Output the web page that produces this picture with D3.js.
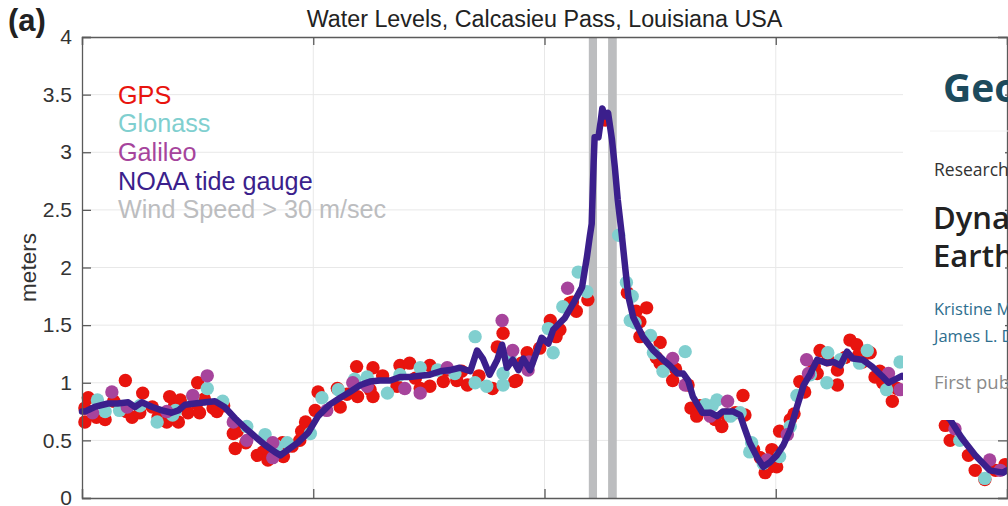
<!DOCTYPE html>
<html><head><meta charset="utf-8">
<script src="https://cdn.jsdelivr.net/npm/d3@7"></script>
<style>
body{margin:0;background:#fff;}
svg{display:block;}
.lib{font-family:"Liberation Sans",Arial,Helvetica,sans-serif;}
.os{font-family:"Open Sans","Noto Sans",sans-serif;}
</style>
</head><body>
<svg id="c" width="1008" height="506"></svg>
<script>
// ---------------- data ----------------
const titleText = "Water Levels, Calcasieu Pass, Louisiana USA";
const panelLabel = "(a)";
const yLabel = "meters";
const yTicks = [0, 0.5, 1, 1.5, 2, 2.5, 3, 3.5, 4];
const xTicks = [0, 24, 48, 72, 96];          // hours (tick labels cut off in reference)
const windWindows = [[52.6, 53.45], [54.6, 55.5]]; // hours with wind > 30 m/s
const seriesNames = ["GPS", "Glonass", "Galileo", "NOAA tide gauge", "Wind Speed > 30 m/sec"];
const seriesColors = ["#e8140e", "#80cfcf", "#a6449c", "#3b1f8c", "#bcbdbf"];

// NOAA tide gauge [hour, meters]
const noaaLine = [
[0.0,0.75],[0.3,0.75],[1.3,0.79],[2.7,0.82],[3.7,0.82],[4.8,0.83],[5.5,0.79],[6.2,0.83],[7.3,0.79],[8.3,0.76],
[9.3,0.74],[10.0,0.76],[10.7,0.81],[11.7,0.82],[12.8,0.83],[13.8,0.84],[14.8,0.79],[15.9,0.69],[16.9,0.61],[18.0,0.53],
[19.0,0.46],[20.0,0.40],[20.6,0.37],[21.4,0.42],[22.4,0.48],[23.5,0.57],[24.5,0.71],[25.7,0.81],[26.8,0.87],[27.8,0.92],
[28.9,0.98],[29.9,1.01],[30.9,1.02],[32.0,1.02],[33.0,1.05],[34.0,1.05],[35.1,1.06],[36.1,1.07],[37.2,1.10],[38.2,1.11],
[39.2,1.13],[40.3,1.10],[41.0,1.28],[41.6,1.21],[42.3,1.07],[43.1,1.20],[43.6,1.33],[44.1,1.13],[44.7,1.20],[45.3,1.11],
[45.8,1.21],[46.5,1.11],[47.2,1.27],[47.7,1.39],[48.4,1.34],[48.9,1.46],[49.6,1.52],[50.1,1.56],[51.0,1.69],[51.9,1.83],
[52.4,2.09],[52.7,2.27],[52.9,2.38],[53.1,2.91],[53.2,3.13],[53.6,3.13],[53.8,3.25],[54.0,3.38],[54.3,3.31],[54.6,3.34],
[55.0,3.11],[55.3,2.87],[55.6,2.59],[56.0,2.30],[56.4,1.98],[56.7,1.75],[57.2,1.57],[58.2,1.40],[59.3,1.28],[60.3,1.20],
[61.0,1.15],[61.8,1.08],[62.4,1.08],[62.9,1.02],[63.4,0.88],[64.4,0.74],[65.2,0.74],[65.9,0.71],[66.5,0.75],[67.6,0.75],
[68.3,0.72],[68.7,0.62],[69.3,0.48],[70.1,0.35],[70.7,0.27],[71.4,0.31],[72.1,0.37],[72.8,0.46],[73.5,0.59],[74.2,0.79],
[74.9,0.98],[75.6,1.08],[76.3,1.20],[77.3,1.17],[78.0,1.18],[78.7,1.15],[79.4,1.27],[80.0,1.21],[81.0,1.20],[82.0,1.14],
[83.0,1.06],[83.7,1.00],[84.4,1.03],[85.1,1.06],[86.5,0.98],[88.0,0.85],[89.3,0.74],[90.1,0.68],[91.3,0.52],[92.7,0.37],
[94.2,0.24],[95.6,0.22],[96.0,0.24]
];

// GPS [hour, meters]
const gpsPoints = [
[0.3,0.78],[0.3,0.66],[0.65,0.87],[1.5,0.70],[2.4,0.68],[3.3,0.84],[4.5,1.02],[4.6,0.75],[5.2,0.70],[6.0,0.74],
[6.3,0.91],[7.3,0.79],[7.9,0.70],[8.8,0.66],[9.1,0.88],[9.6,0.80],[10.0,0.66],[10.2,0.85],[11.0,0.74],[11.9,0.82],
[12.0,1.00],[12.2,0.74],[12.7,0.86],[13.6,0.78],[14.0,0.75],[14.7,0.80],[15.7,0.56],[15.9,0.43],[16.1,0.58],[17.0,0.48],
[18.2,0.37],[18.8,0.40],[19.2,0.42],[19.3,0.33],[20.8,0.48],[20.9,0.36],[21.8,0.45],[22.6,0.50],[22.8,0.58],[23.2,0.66],
[24.2,0.76],[24.5,0.92],[26.5,0.95],[26.8,0.79],[27.5,0.90],[28.5,1.14],[28.6,0.88],[29.9,0.94],[30.2,1.13],[30.2,0.88],
[31.2,1.06],[32.7,0.97],[33.0,1.15],[34.0,1.17],[34.6,1.04],[35.1,0.95],[36.1,1.15],[36.1,0.97],[37.5,1.01],[37.9,1.11],
[38.9,1.02],[39.4,1.10],[40.0,0.98],[41.2,1.06],[42.6,0.95],[43.1,1.31],[43.7,1.43],[44.9,1.01],[45.1,1.02],[45.6,1.17],
[46.2,1.26],[47.5,1.30],[48.6,1.54],[49.2,1.40],[49.6,1.46],[50.6,1.69],[50.9,1.70],[51.3,1.62],[52.5,1.72],[54.3,3.28],
[56.6,1.78],[57.5,1.62],[57.9,1.53],[57.9,1.40],[58.6,1.65],[59.6,1.22],[60.0,1.35],[60.0,1.17],[61.3,1.02],[61.6,1.12],
[62.9,0.98],[63.2,0.78],[63.8,0.71],[64.1,0.80],[65.7,0.68],[66.4,0.62],[66.9,0.72],[67.8,0.74],[68.6,0.89],[68.8,0.72],
[69.7,0.42],[70.4,0.35],[70.9,0.22],[71.4,0.27],[71.6,0.42],[72.1,0.27],[72.4,0.58],[73.5,0.68],[73.9,0.73],[74.5,1.01],
[75.0,0.92],[76.0,1.14],[76.3,1.08],[76.6,1.28],[77.4,1.20],[78.4,0.98],[78.4,1.11],[79.2,1.22],[79.7,1.37],[80.4,1.33],
[80.6,1.24],[81.0,1.18],[81.8,1.26],[82.3,1.05],[82.8,1.10],[83.1,1.00],[84.1,0.84],[84.6,0.95],[89.6,0.63],[90.1,0.50],
[92.0,0.37],[92.7,0.24],[93.7,0.16],[94.8,0.24],[95.8,0.29]
];

// Glonass [hour, meters]
const glonassPoints = [
[1.6,0.85],[2.4,0.75],[3.9,0.76],[6.0,0.80],[7.8,0.66],[9.4,0.72],[9.7,0.76],[11.5,0.88],[13.0,0.95],[14.6,0.84],
[17.1,0.62],[19.0,0.55],[20.2,0.45],[21.3,0.48],[23.7,0.56],[24.9,0.87],[26.6,0.94],[28.3,1.03],[29.6,1.05],[31.7,0.91],
[33.0,1.07],[35.1,1.13],[36.9,1.11],[38.7,1.08],[40.8,1.40],[40.8,1.00],[42.0,0.97],[43.7,0.98],[43.7,1.08],[44.4,1.22],
[48.4,1.47],[48.9,1.26],[49.9,1.66],[51.5,1.96],[52.4,1.79],[55.7,2.28],[56.5,1.87],[56.9,1.54],[57.1,1.75],[57.4,1.52],
[59.0,1.41],[59.3,1.26],[60.3,1.10],[62.6,1.27],[64.7,0.81],[65.4,0.80],[65.9,0.85],[67.3,0.71],[68.3,0.74],[69.3,0.40],
[69.5,0.48],[70.7,0.30],[72.4,0.36],[73.5,0.62],[74.2,0.89],[75.6,1.07],[77.3,1.00],[77.4,1.26],[78.7,1.20],[80.7,1.17],
[81.5,1.28],[83.5,0.94],[84.9,1.18],[91.1,0.50],[93.7,0.17]
];

// Galileo [hour, meters]
const galileoPoints = [
[1.1,0.74],[3.1,0.92],[4.7,0.79],[8.8,0.75],[11.5,0.89],[13.0,1.06],[15.7,0.66],[17.1,0.50],[19.8,0.48],[19.8,0.35],
[25.4,0.76],[28.1,1.00],[29.6,0.97],[33.5,0.95],[35.1,0.91],[37.9,1.13],[43.6,1.54],[44.7,1.28],[46.3,1.11],[46.4,1.18],
[50.4,1.82],[61.3,1.21],[62.6,0.98],[65.2,0.71],[67.0,0.84],[71.1,0.33],[73.2,0.55],[75.2,1.20],[75.4,1.08],[83.7,1.08],
[84.9,0.94],[90.6,0.60],[94.2,0.33],[95.3,0.24]
];

// overlay (pasted article header) texts
const overlayLines = [
  "Geophysical Research Letters",
  "Research Letter",
  "Dynamic Sea Level Variation From GNSS: 2020 Shumagin",
  "Earthquake Tsunami Resonance and Hurricane Laura",
  "Kristine M. Larson, Simon D. P. Williams,",
  "James L. Davis",
  "First published: 2021"
];

// ---------------- chart ----------------
const svg = d3.select("#c");
const L = 82, R = 1007, T = 37, B = 498;
const x = d3.scaleLinear().domain([0, 96]).range([L, R]);
const y = d3.scaleLinear().domain([0, 4]).range([B, T]);

// grid
const grid = svg.append("g");
grid.selectAll(".gy").data(yTicks.filter(d => d > 0 && d < 4)).join("line")
  .attr("x1", L).attr("x2", R).attr("y1", d => y(d)).attr("y2", d => y(d))
  .attr("stroke", "#e8e8e8").attr("stroke-width", 1);
grid.selectAll(".gx").data(xTicks.filter(d => d > 0 && d < 96)).join("line")
  .attr("y1", T).attr("y2", B).attr("x1", d => x(d)).attr("x2", d => x(d))
  .attr("stroke", "#e8e8e8").attr("stroke-width", 1);

// wind windows
svg.append("g").selectAll("rect").data(windWindows).join("rect")
  .attr("x", d => x(d[0])).attr("width", d => x(d[1]) - x(d[0]))
  .attr("y", T).attr("height", B - T).attr("fill", seriesColors[4]);

// points
function dots(data, color) {
  svg.append("g").selectAll("circle").data(data).join("circle")
    .attr("cx", d => x(d[0])).attr("cy", d => y(d[1])).attr("r", 6.7)
    .attr("fill", color);
}
dots(gpsPoints, seriesColors[0]);
dots(glonassPoints, seriesColors[1]);
dots(galileoPoints, seriesColors[2]);

// NOAA line
svg.append("path").datum(noaaLine)
  .attr("d", d3.line().x(d => x(d[0])).y(d => y(d[1])))
  .attr("fill", "none").attr("stroke", seriesColors[3]).attr("stroke-width", 6.5)
  .attr("stroke-linejoin", "round").attr("stroke-linecap", "round");

// axes
const axisColor = "#5a5a5a";
const yAxis = svg.append("g").attr("transform", `translate(${L},0)`)
  .call(d3.axisLeft(y).tickValues(yTicks).tickSize(-9).tickPadding(10).tickFormat(d3.format("")));
const xTop = svg.append("g").attr("transform", `translate(0,${T})`)
  .call(d3.axisTop(x).tickValues(xTicks).tickSize(-8).tickFormat(""));
const xBot = svg.append("g").attr("transform", `translate(0,${B})`)
  .call(d3.axisBottom(x).tickValues(xTicks).tickSize(-9).tickFormat(""));
const xRight = svg.append("g").attr("transform", `translate(${R},0)`)
  .call(d3.axisRight(y).tickValues(yTicks).tickSize(-9).tickFormat(""));
[yAxis, xTop, xBot, xRight].forEach(g => {
  g.selectAll("path.domain").attr("stroke", axisColor).attr("stroke-width", 1.3);
  g.selectAll(".tick line").attr("stroke", axisColor).attr("stroke-width", 1.3);
});
yAxis.selectAll(".tick text").attr("font-size", 21).attr("fill", "#333")
  .attr("font-family", "Liberation Sans, Arial, sans-serif");

// y label
svg.append("text").attr("class", "lib")
  .attr("transform", `translate(36,${(T + B) / 2}) rotate(-90)`)
  .attr("text-anchor", "middle").attr("font-size", 22.5).attr("fill", "#333").text(yLabel);

// title
svg.append("text").attr("class", "lib").attr("x", (L + R) / 2).attr("y", 27)
  .attr("text-anchor", "middle").attr("font-size", 23.3).attr("fill", "#222").text(titleText);

// panel label
svg.append("text").attr("class", "lib").attr("x", 8).attr("y", 31)
  .attr("font-size", 31).attr("font-weight", "bold").attr("fill", "#222").text(panelLabel);

// legend (text only)
svg.append("g").selectAll("text").data(seriesNames).join("text")
  .attr("class", "lib").attr("x", 118).attr("y", (d, i) => 103.5 + i * 28.7)
  .attr("font-size", 25.2).attr("fill", (d, i) => seriesColors[i]).text(d => d);

// overlay box
const ov = svg.append("g");
ov.append("rect").attr("x", 903).attr("y", 39).attr("width", 102).attr("height", 381).attr("fill", "#fff");
const ovClip = svg.append("clipPath").attr("id", "ovc");
ovClip.append("rect").attr("x", 903).attr("y", 39).attr("width", 105).attr("height", 381);
const ot = ov.append("g").attr("clip-path", "url(#ovc)");
ot.append("line").attr("x1", 930).attr("x2", 1008).attr("y1", 131).attr("y2", 131).attr("stroke", "#f2f2f2");
const ovSpec = [
  {x: 943, y: 102, s: 39, w: 700, c: "#1c4a5c"},
  {x: 934, y: 176, s: 17.5, w: 400, c: "#333"},
  {x: 933, y: 229, s: 31, w: 600, c: "#222"},
  {x: 933, y: 267, s: 31, w: 600, c: "#222"},
  {x: 934, y: 315, s: 16.5, w: 400, c: "#2d6e8e"},
  {x: 934, y: 342, s: 16.5, w: 400, c: "#2d6e8e"},
  {x: 934, y: 389, s: 18.5, w: 400, c: "#8a8a8a"}
];
ot.selectAll("text").data(overlayLines).join("text").attr("class", "os")
  .attr("x", (d, i) => ovSpec[i].x).attr("y", (d, i) => ovSpec[i].y)
  .attr("font-size", (d, i) => ovSpec[i].s).attr("font-weight", (d, i) => ovSpec[i].w)
  .attr("fill", (d, i) => ovSpec[i].c).text(d => d);
</script>
</body></html>
